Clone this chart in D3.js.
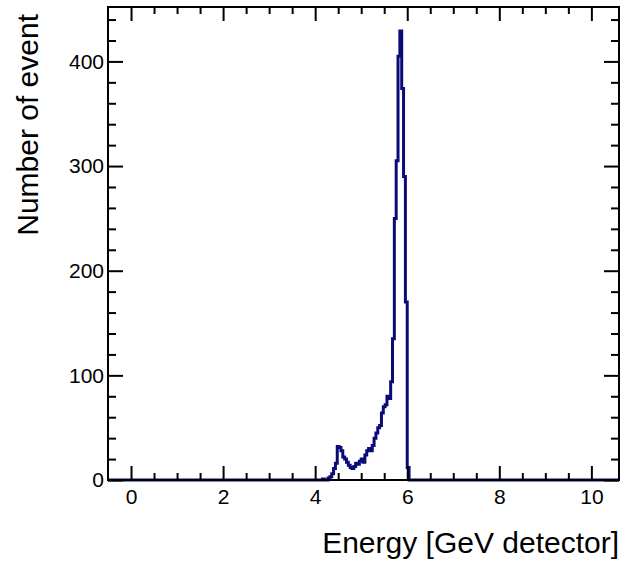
<!DOCTYPE html>
<html>
<head>
<meta charset="utf-8">
<script src="https://cdn.jsdelivr.net/npm/d3@7"></script>
<style>
  body { margin: 0; background: #fff; }
  text { font-family: "Liberation Sans", Arial, sans-serif; fill: #000; }
</style>
</head>
<body>
<div id="chart"></div>
<script>
// histogram bins (lower edge, GeV) and counts, everything else is empty
const binWidth = 0.04;
const binLow = [4.16, 4.20, 4.24, 4.28, 4.32, 4.36, 4.40, 4.44, 4.48, 4.52,
                4.56, 4.60, 4.64, 4.68, 4.72, 4.76, 4.80, 4.84, 4.88, 4.92,
                4.96, 5.00, 5.04, 5.08, 5.12, 5.16, 5.20, 5.24, 5.28, 5.32,
                5.36, 5.40, 5.44, 5.48, 5.52, 5.56, 5.60, 5.64, 5.68, 5.72,
                5.76, 5.80, 5.84, 5.88, 5.92, 5.96, 6.00];
const counts = [1, 0, 0, 2, 3, 6, 11, 16, 32, 31,
                28, 22, 20, 17, 14, 12, 11, 13, 16, 15,
                18, 20, 17, 24, 28, 30, 28, 33, 40, 45,
                50, 52, 64, 70, 72, 80, 78, 94, 135, 250,
                305, 405, 429, 374, 290, 170, 12];

const xTicks = [0, 2, 4, 6, 8, 10];
const yTicks = [0, 100, 200, 300, 400];

const W = 622, H = 562;
const frame = { left: 108, right: 619, top: 7, bottom: 480 };

const svg = d3.select("#chart").append("svg")
    .attr("width", W)
    .attr("height", H);

const x = d3.scaleLinear().domain([-0.5, 10.6]).range([frame.left, frame.right]);
const y = d3.scaleLinear().domain([0, 452]).range([frame.bottom, frame.top]);

// step outline, starting and ending on zero at the frame edges
const pts = [[-0.5, 0], [binLow[0], 0]];
binLow.forEach((b, i) => {
    pts.push([b, counts[i]]);
    pts.push([b + binWidth, counts[i]]);
});
pts.push([binLow[binLow.length - 1] + binWidth, 0]);
pts.push([10.6, 0]);

const line = d3.line().x(d => x(d[0])).y(d => y(d[1]));

svg.append("path")
    .attr("d", line(pts))
    .attr("fill", "none")
    .attr("stroke", "#0b0b78")
    .attr("stroke-width", 3)
    .attr("stroke-linejoin", "miter");

// ticks (ROOT style: inside, on all four sides)
const xMajLen = 14, xMinLen = 7, yMajLen = 15, yMinLen = 8;
const xMinor = d3.range(0, 21).map(i => i * 0.5).filter(v => !xTicks.includes(v));
const yMinor = d3.range(1, 23).map(i => i * 20).filter(v => !yTicks.includes(v));

svg.append("g").attr("transform", `translate(0,${frame.bottom})`)
    .call(d3.axisBottom(x).tickValues(xTicks).tickSize(-xMajLen).tickPadding(9).tickFormat(d3.format("d")));
svg.append("g").attr("transform", `translate(0,${frame.bottom})`)
    .call(d3.axisBottom(x).tickValues(xMinor).tickSize(-xMinLen).tickFormat(""));
svg.append("g").attr("transform", `translate(0,${frame.top})`)
    .call(d3.axisTop(x).tickValues(xTicks).tickSize(-xMajLen).tickFormat(""));
svg.append("g").attr("transform", `translate(0,${frame.top})`)
    .call(d3.axisTop(x).tickValues(xMinor).tickSize(-xMinLen).tickFormat(""));

svg.append("g").attr("transform", `translate(${frame.left},0)`)
    .call(d3.axisLeft(y).tickValues(yTicks).tickSize(-yMajLen).tickPadding(4));
svg.append("g").attr("transform", `translate(${frame.left},0)`)
    .call(d3.axisLeft(y).tickValues(yMinor).tickSize(-yMinLen).tickFormat(""));
svg.append("g").attr("transform", `translate(${frame.right},0)`)
    .call(d3.axisRight(y).tickValues(yTicks).tickSize(-yMajLen).tickFormat(""));
svg.append("g").attr("transform", `translate(${frame.right},0)`)
    .call(d3.axisRight(y).tickValues(yMinor).tickSize(-yMinLen).tickFormat(""));

svg.selectAll(".domain").remove();
svg.selectAll(".tick line").attr("stroke", "#000").attr("stroke-width", 2);
svg.selectAll(".tick text")
    .style("font-size", "21px")
    .style("font-family", "'Liberation Sans', Arial, sans-serif")
    .attr("fill", "#000");

// frame
svg.append("rect")
    .attr("x", frame.left)
    .attr("y", frame.top)
    .attr("width", frame.right - frame.left)
    .attr("height", frame.bottom - frame.top)
    .attr("fill", "none")
    .attr("stroke", "#000")
    .attr("stroke-width", 2);

// axis titles
svg.append("text")
    .attr("x", frame.right)
    .attr("y", 553)
    .attr("text-anchor", "end")
    .attr("font-size", 30)
    .text("Energy [GeV detector]");

svg.append("text")
    .attr("transform", `translate(38,14) rotate(-90)`)
    .attr("text-anchor", "end")
    .attr("font-size", 30)
    .text("Number of event");
</script>
</body>
</html>
